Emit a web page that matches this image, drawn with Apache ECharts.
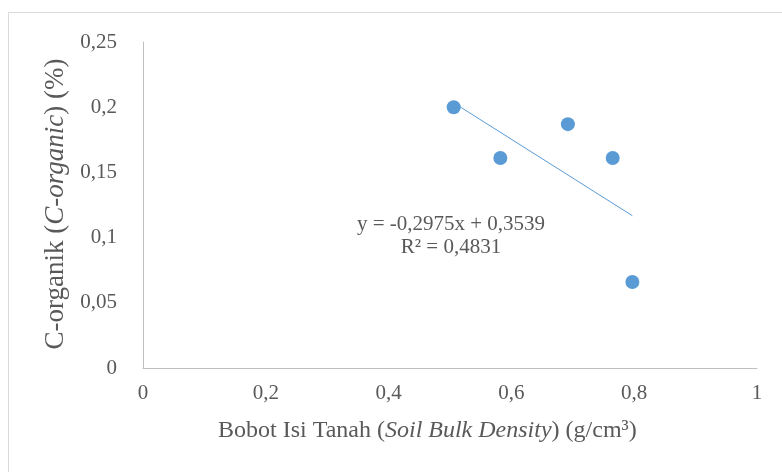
<!DOCTYPE html>
<html>
<head>
<meta charset="utf-8">
<script src="https://cdn.jsdelivr.net/npm/echarts@6/dist/echarts.min.js"></script>
<style>
  html, body { margin: 0; padding: 0; background: #fff; }
  #chart { width: 782px; height: 472px; }
</style>
</head>
<body>
<div id="chart"></div>
<script>
// bulk density (g/cm3) vs organic carbon (%)
const bulkDensity = [0.506, 0.582, 0.692, 0.765, 0.797]
const cOrganic = [0.200, 0.161, 0.187, 0.161, 0.066]
// linear trend as printed on the chart
const slope = -0.2975
const intercept = 0.3539
const rSquared = 0.4831

const fmt = (v, d) => v.toFixed(d).replace('.', ',')

const xMin = Math.min(...bulkDensity)
const xMax = Math.max(...bulkDensity)
const trend = [
  [xMin, slope * xMin + intercept],
  [xMax, slope * xMax + intercept],
]

const textColor = '#595959'
const font = 'Liberation Serif'
const blue = '#5B9BD5'

const chart = echarts.init(document.getElementById('chart'))

chart.setOption({
  backgroundColor: '#fff',
  animation: false,
  grid: { left: 143, right: 25, top: 42, bottom: 104 },
  xAxis: {
    type: 'value',
    min: 0,
    max: 1,
    interval: 0.2,
    splitLine: { show: false },
    axisTick: { show: false },
    axisLine: { show: true, onZero: false, lineStyle: { color: '#BFBFBF', width: 1 } },
    axisLabel: {
      color: textColor,
      fontFamily: font,
      fontSize: 21,
      margin: 15,
      formatter: v => (v === 0 || v === 1) ? String(v) : fmt(v, 1),
    },
  },
  yAxis: {
    type: 'value',
    min: 0,
    max: 0.25,
    interval: 0.05,
    splitLine: { show: false },
    axisTick: { show: false },
    axisLine: { show: true, lineStyle: { color: '#BFBFBF', width: 1 } },
    axisLabel: {
      color: textColor,
      fontFamily: font,
      fontSize: 21,
      margin: 26,
      formatter: v => v === 0 ? '0' : String(+v.toFixed(2)).replace('.', ','),
    },
  },
  graphic: [
    {
      type: 'rect',
      shape: { x: 8.5, y: 12.5, width: 800, height: 500 },
      style: { fill: 'none', stroke: '#D9D9D9', lineWidth: 1 },
      silent: true,
      z: -1,
    },
    {
      type: 'text',
      x: 218,
      y: 431,
      style: {
        text: '{n|Bobot Isi Tanah (}{i|Soil Bulk Density}{n|) (g/cm³)}',
        verticalAlign: 'middle',
        rich: {
          n: { fontFamily: font, fontSize: 24, fill: textColor },
          i: { fontFamily: font, fontSize: 24, fontStyle: 'italic', fill: textColor },
        },
      },
    },
    {
      type: 'text',
      x: 56,
      y: 204,
      rotation: Math.PI / 2,
      style: {
        text: '{n|C-organik (}{i|C-organic}{n|) (%)}',
        align: 'center',
        verticalAlign: 'middle',
        rich: {
          n: { fontFamily: font, fontSize: 27, fill: textColor },
          i: { fontFamily: font, fontSize: 27, fontStyle: 'italic', fill: textColor },
        },
      },
    },
    {
      type: 'text',
      x: 451,
      y: 236,
      style: {
        text: 'y = ' + fmt(slope, 4) + 'x + ' + fmt(intercept, 4) + '\nR² = ' + fmt(rSquared, 4),
        align: 'center',
        verticalAlign: 'middle',
        lineHeight: 23,
        fontFamily: font,
        fontSize: 21,
        fill: textColor,
      },
    },
  ],
  series: [
    {
      type: 'line',
      data: trend,
      symbol: 'none',
      lineStyle: { color: blue, width: 1 },
      z: 1,
    },
    {
      type: 'scatter',
      data: bulkDensity.map((x, i) => [x, cOrganic[i]]),
      symbolSize: 14,
      itemStyle: { color: blue, opacity: 1 },
      z: 2,
    },
  ],
})
</script>
</body>
</html>
